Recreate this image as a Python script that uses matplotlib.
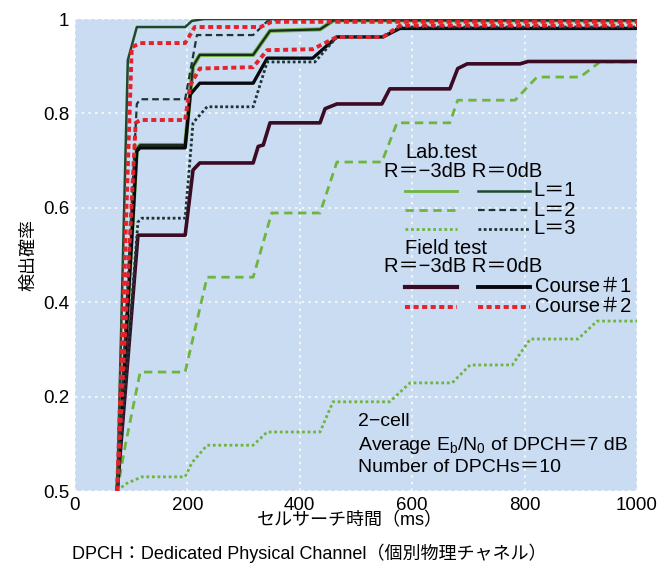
import matplotlib
matplotlib.use("Agg")
import matplotlib.pyplot as plt
import matplotlib.patheffects as pe
from matplotlib.lines import Line2D

plt.rcParams['font.family'] = ['Liberation Sans', 'Noto Sans CJK JP', 'DejaVu Sans']
plt.rcParams['mathtext.fontset'] = 'custom'
plt.rcParams['mathtext.rm'] = 'Liberation Sans'
plt.rcParams['mathtext.it'] = 'Liberation Sans'

# ---- data (search time in ms, detection probability) ----
lab_L1_r0_x = [75, 94, 110, 196, 208, 230, 1000]
lab_L1_r0_y = [0, 0.913, 0.983, 0.983, 0.996, 1.0, 1.0]

lab_L2_r0_x = [75, 110, 116, 196, 217, 317, 342, 370, 1000]
lab_L2_r0_y = [0, 0.82, 0.83, 0.83, 0.966, 0.966, 0.995, 1.0, 1.0]

lab_L3_r0_x = [75, 112, 119, 196, 210, 235, 317, 342, 427, 466, 548, 578, 1000]
lab_L3_r0_y = [0, 0.57, 0.578, 0.578, 0.78, 0.814, 0.814, 0.909, 0.909, 0.962, 0.962, 0.983, 0.983]

lab_L1_m3_x = [75, 110, 116, 196, 210, 222, 317, 347, 436, 460, 1000]
lab_L1_m3_y = [0, 0.725, 0.733, 0.733, 0.9, 0.924, 0.924, 0.975, 0.978, 0.997, 0.997]

lab_L2_m3_x = [75, 90, 116, 196, 235, 317, 350, 436, 466, 546, 573, 667, 681, 783, 822, 899, 934, 1000]
lab_L2_m3_y = [0, 0.1, 0.252, 0.252, 0.453, 0.453, 0.589, 0.589, 0.697, 0.697, 0.78, 0.78, 0.828, 0.828, 0.877, 0.877, 0.909, 0.909]

lab_L3_m3_x = [75, 90, 119, 196, 208, 235, 317, 342, 436, 459, 560, 596, 671, 703, 778, 810, 895, 929, 1000]
lab_L3_m3_y = [0, 0.015, 0.03, 0.03, 0.06, 0.097, 0.097, 0.125, 0.125, 0.189, 0.189, 0.229, 0.229, 0.267, 0.267, 0.322, 0.322, 0.36, 0.36]

c1_m3_x = [75, 112, 196, 210, 222, 317, 326, 335, 347, 436, 445, 466, 546, 560, 667, 681, 698, 792, 806, 1000]
c1_m3_y = [0, 0.542, 0.542, 0.68, 0.695, 0.695, 0.73, 0.733, 0.78, 0.78, 0.81, 0.82, 0.82, 0.852, 0.852, 0.895, 0.905, 0.905, 0.91, 0.91]

c1_r0_x = [75, 110, 116, 196, 205, 222, 317, 342, 423, 466, 548, 578, 1000]
c1_r0_y = [0, 0.72, 0.727, 0.727, 0.84, 0.864, 0.864, 0.917, 0.917, 0.962, 0.962, 0.98, 0.98]

c2_m3_x = [75, 108, 116, 196, 205, 222, 317, 342, 423, 466, 548, 578, 1000]
c2_m3_y = [0, 0.78, 0.786, 0.786, 0.86, 0.895, 0.898, 0.934, 0.936, 0.962, 0.962, 0.986, 0.986]

c2_r0_x = [75, 101, 116, 196, 213, 330, 350, 1000]
c2_r0_y = [0, 0.94, 0.949, 0.949, 0.983, 0.983, 0.994, 0.994]

xticks = [0, 200, 400, 600, 800, 1000]
yticks = [0, 0.2, 0.4, 0.6, 0.8, 1.0]
ytick_labels = ['0.5', '0.2', '0.4', '0.6', '0.8', '1']

# ---- colours / styles ----
LG = '#6fb43f'      # light green (R=-3dB lab)
DG = '#1d4a2c'      # dark green (R=0dB lab)
DK = '#1c3436'      # dark teal for dashed / dotted
MAROON = '#3a0b22'
BLACK = '#08080f'
RED = '#e2232b'
BG = '#cadcf2'

fig = plt.figure(figsize=(6.62, 5.66), dpi=100)
ax = fig.add_axes([75/662, 1-491/566, (637-75)/662, (491-19)/566])
ax.set_facecolor(BG)
for s in ax.spines.values():
    s.set_visible(False)

dash_lg = (0, (3, 2))
dot_lg = (0, (1, 1))
dash_dk = (0, (3, 1.8))
dot_dk = (0, (1, 0.9))
dash_red = (0, (1.3, 0.9))

# lab R=-3dB
ax.plot(lab_L3_m3_x, lab_L3_m3_y, color=LG, lw=2, linestyle=dot_lg, zorder=2)
ax.plot(lab_L2_m3_x, lab_L2_m3_y, color=LG, lw=2, linestyle=dash_lg, zorder=2)
ax.plot(lab_L1_m3_x, lab_L1_m3_y, color='#1a2a22', lw=1.6, zorder=3,
        path_effects=[pe.Stroke(linewidth=3.0, foreground=LG), pe.Normal()])
# field course 1
ax.plot(c1_m3_x, c1_m3_y, color=MAROON, lw=2.6, zorder=3)
ax.plot(c1_r0_x, c1_r0_y, color=BLACK, lw=2.4, zorder=3)
# lab R=0dB
ax.plot(lab_L3_r0_x, lab_L3_r0_y, color=DK, lw=2, linestyle=dot_dk, zorder=4)
ax.plot(lab_L2_r0_x, lab_L2_r0_y, color=DK, lw=1.6, linestyle=dash_dk, zorder=4)
ax.plot(lab_L1_r0_x, lab_L1_r0_y, color=DG, lw=1.8, zorder=4)
# field course 2
ax.plot(c2_m3_x, c2_m3_y, color=RED, lw=2.8, linestyle=dash_red, zorder=5)
ax.plot(c2_r0_x, c2_r0_y, color=RED, lw=2.8, linestyle=dash_red, zorder=5)

ax.set_xlim(0, 1000)
ax.set_ylim(0, 1)
ax.set_xticks(xticks)
ax.set_yticks(yticks)
ax.set_yticklabels(ytick_labels)
ax.tick_params(length=0, labelsize=13.5, pad=4)
ax.grid(True, color='white', linestyle=(0, (1.5, 2.5)), lw=1.2, alpha=0.9)
ax.set_axisbelow(True)

ax.set_xlabel('セルサーチ時間（ms）', fontsize=13)
ax.xaxis.set_label_coords(0.49, -0.063)
ax.xaxis.label.set_va('center')
ax.set_ylabel('検出確率', fontsize=13, labelpad=4)

# ---- custom legend (figure-pixel layout) ----
W, H = 662, 566
def fx(px):
    return px / W
def fy(py):
    return 1 - py / H

tkw = dict(fontsize=14.5, va='center', ha='left')
fig.text(fx(405), fy(152), 'Lab.test', **tkw)
fig.text(fx(384), fy(172), 'R＝−3dB R＝0dB', **tkw)
rows = [
    (191, dict(color=LG, lw=2), dict(color=DG, lw=1.8), 'L＝1'),
    (210, dict(color=LG, lw=2, linestyle=dash_lg), dict(color=DK, lw=1.6, linestyle=dash_dk), 'L＝2'),
    (229, dict(color=LG, lw=2, linestyle=dot_lg), dict(color=DK, lw=2, linestyle=dot_dk), 'L＝3'),
]
for py, s1, s2, lab in rows:
    fig.add_artist(Line2D([fx(405), fx(457)], [fy(py), fy(py)], transform=fig.transFigure, **s1))
    fig.add_artist(Line2D([fx(478), fx(530)], [fy(py), fy(py)], transform=fig.transFigure, **s2))
    fig.text(fx(533), fy(py), lab, **tkw)
fig.text(fx(405), fy(248), 'Field test', **tkw)
fig.text(fx(384), fy(267), 'R＝−3dB R＝0dB', **tkw)
rows2 = [
    (287, dict(color=MAROON, lw=3), dict(color=BLACK, lw=2.8), 'Course＃1'),
    (307, dict(color=RED, lw=2.8, linestyle=dash_red), dict(color=RED, lw=2.8, linestyle=dash_red), 'Course＃2'),
]
for py, s1, s2, lab in rows2:
    fig.add_artist(Line2D([fx(405), fx(457)], [fy(py), fy(py)], transform=fig.transFigure, **s1))
    fig.add_artist(Line2D([fx(478), fx(530)], [fy(py), fy(py)], transform=fig.transFigure, **s2))
    fig.text(fx(535), fy(py), lab, **tkw)

akw = dict(fontsize=14, va='center', ha='left')
fig.text(fx(358), fy(422), '2−cell', **akw)
t1 = fig.text(fx(358), fy(446), r'Average E$_\mathrm{b}$/N$_\mathrm{0}$ of DPCH', **akw)
fig.canvas.draw()
bb = t1.get_window_extent(renderer=fig.canvas.get_renderer())
fig.text(bb.x1 / W, fy(446), '＝7 dB', **akw)
fig.text(fx(358), fy(468), 'Number of DPCHs＝10', **akw)

fig.text(fx(72), fy(553), 'DPCH：Dedicated Physical Channel（個別物理チャネル）',
         fontsize=13, va='center', ha='left')

fig.savefig('out.png', dpi=100, facecolor='white')
